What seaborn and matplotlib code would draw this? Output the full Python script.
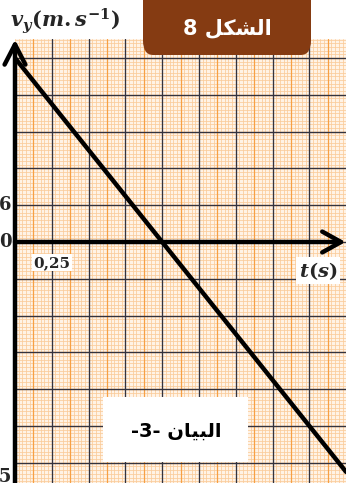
import numpy as np
import pandas as pd
import matplotlib
matplotlib.use("Agg")
import matplotlib.pyplot as plt
from matplotlib.patches import FancyBboxPatch
import seaborn as sns

# Velocity-time data (t in s, v_y in m/s)
t_values = [0.0, 2.25]
v_values = [30.0, -37.5]

# Axis tick labels
x_tick_value = 0.25
x_tick_label = "0,25"
y_tick_values = [6.0, 0.0, -37.5]
y_tick_labels = ["6", "0", "-37,5"]

# Arabic titles (presentation forms in visual order)
title_text = "8 \uFEDE\uFEDC\uFEB8\uFEDF\uFE8D"          # الشكل 8
caption_text = "-3- \uFEE5\uFE8E\uFEF4\uFE92\uFEDF\uFE8D"  # البيان -3-

sns.set_theme(style="white")
plt.rcParams["font.family"] = ["DejaVu Sans"]
plt.rcParams["mathtext.fontset"] = "custom"
plt.rcParams["mathtext.it"] = "DejaVu Serif:italic:bold"
plt.rcParams["mathtext.rm"] = "DejaVu Serif:bold"
plt.rcParams["mathtext.bf"] = "DejaVu Serif:bold"

W, H = 346, 483
fig = plt.figure(figsize=(W / 100, H / 100), dpi=100)
fig.patch.set_facecolor("white")

# plotting area in pixel units
x0_px, top_px, zero_px = 15, 39, 242
div_px = 36.8
ax = fig.add_axes([x0_px / W, 0, (W - x0_px) / W, (H - top_px) / H])
ax.set_facecolor("#fff3e6")

xmax = (W - x0_px) / div_px * 0.25
ymax = (zero_px - top_px) / div_px * 6
ymin = -(H - zero_px) / div_px * 6
ax.set_xlim(0, xmax)
ax.set_ylim(ymin, ymax)

# millimetre-paper grid
fine_x = np.arange(0, xmax + 1e-9, 0.025)
fine_y = np.arange(-42, 36, 0.6)
for xv in fine_x:
    ax.axvline(xv, color="#facb9a", lw=0.55, zorder=0)
for yv in fine_y:
    ax.axhline(yv, color="#facb9a", lw=0.55, zorder=0)
for xv in np.arange(0.125, xmax, 0.25):
    ax.axvline(xv, color="#f7a044", lw=0.9, zorder=0.5)
for yv in np.arange(-39, 36, 6) + 3:
    ax.axhline(yv, color="#f7a044", lw=0.9, zorder=0.5)
for xv in np.arange(0.25, xmax, 0.25):
    ax.axvline(xv, color="#33333f", lw=0.95, zorder=1)
for yv in np.arange(-36, 36, 6):
    ax.axhline(yv, color="#33333f", lw=0.95, zorder=1)

for s in ax.spines.values():
    s.set_visible(False)
ax.set_xticks([])
ax.set_yticks([])

# the velocity line
df = pd.DataFrame({"t": t_values, "v": v_values})
sns.lineplot(data=df, x="t", y="v", ax=ax, color="black", lw=3.2, zorder=5)
ax.set_xlabel("")
ax.set_ylabel("")

# axes with arrow heads
ax.annotate("", xy=(0, ymax - 0.1), xytext=(0, ymin - 1),
            arrowprops=dict(arrowstyle="->,head_length=1.45,head_width=0.75",
                            lw=3.2, color="black", mutation_scale=10,
                            shrinkA=0, shrinkB=0),
            annotation_clip=False, zorder=6)
ax.annotate("", xy=(xmax - 0.003, 0), xytext=(0, 0),
            arrowprops=dict(arrowstyle="->,head_length=1.35,head_width=0.75",
                            lw=3.2, color="black", mutation_scale=10,
                            shrinkA=0, shrinkB=0),
            annotation_clip=False, zorder=6)

# tick labels
ax.text(x_tick_value, -3.4, x_tick_label, ha="center", va="center",
        fontsize=11, fontweight="bold", family="DejaVu Serif",
        bbox=dict(facecolor="white", edgecolor="none", pad=1.0), zorder=7)
for yv, lab in zip(y_tick_values, y_tick_labels):
    off = -0.75 if yv < -30 else 0
    ax.text(-0.025, yv + off, lab, ha="right", va="center", fontsize=13,
            fontweight="bold", family="DejaVu Serif", clip_on=False)

# axis titles
ax.text(2.06, -4.7, r"$t(s)$", ha="center", va="center", fontsize=14,
        bbox=dict(facecolor="white", edgecolor="none", pad=2), zorder=7)
fig.text(10 / W, 1 - 21 / H, r"$v_y(m.s^{-1})$", ha="left", va="center",
         fontsize=15)

# heading box
hbox = FancyBboxPatch((143 / W, 1 - 55 / H), 168 / W, 75 / H,
                      boxstyle="round,pad=0,rounding_size=0.03",
                      transform=fig.transFigure, facecolor="#853b12",
                      edgecolor="none", zorder=10)
fig.patches.append(hbox)
fig.text(227 / W, 1 - 28 / H, title_text, ha="center", va="center",
         fontsize=15, color="white", fontweight="bold", zorder=11)

# caption box
cbox = FancyBboxPatch((103 / W, 1 - 462 / H), 145 / W, 65 / H,
                      boxstyle="square,pad=0", transform=fig.transFigure,
                      facecolor="white", edgecolor="none", zorder=10)
fig.patches.append(cbox)
fig.text(176 / W, 1 - 431 / H, caption_text, ha="center", va="center",
         fontsize=14, color="black", fontweight="bold", zorder=11)

fig.savefig("out.png", dpi=100)
